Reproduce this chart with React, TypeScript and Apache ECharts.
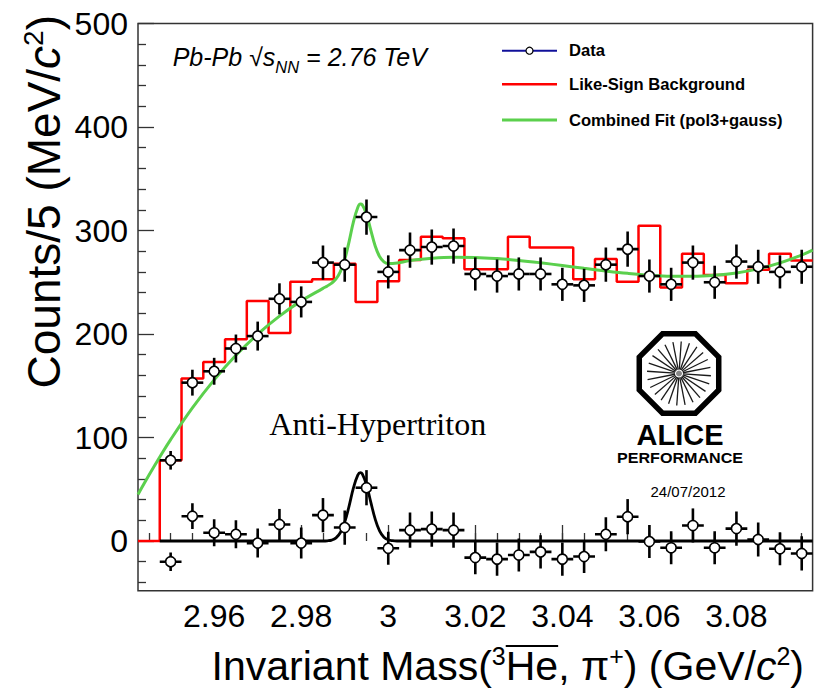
import React, { useEffect, useRef } from 'react';
import * as echarts from 'echarts';

// ---------- data ----------
const histCenters = [2.945, 2.95, 2.955, 2.96, 2.965, 2.97, 2.975, 2.98, 2.985, 2.99, 2.995, 3.0, 3.005, 3.01, 3.015, 3.02, 3.025, 3.03, 3.035, 3.04, 3.045, 3.05, 3.055, 3.06, 3.065, 3.07, 3.075, 3.08, 3.085, 3.09, 3.095];
const likeSignBkg = [0, 78, 157, 173, 195, 232, 201, 250.5, 253, 268, 231, 251, 271.5, 294, 292.5, 262.5, 262.5, 294, 283.5, 283.5, 253, 272.5, 250.5, 304.5, 245, 277.5, 257, 249, 262, 277.5, 271];
const dataCenters = histCenters.slice(1);
const dataCounts = [78, 153, 164, 186, 198, 234, 231, 269, 267, 313, 260, 281, 284, 285, 258, 256, 258, 258, 248, 247, 267, 282, 256, 248, 269, 250, 270, 265, 260, 265];
const dataSubtracted = [-20, 24, 8, 6.5, -2, 16, -2, 25, 13, 51.5, -7, 10.5, 11.5, 10.5, -16, -17.5, -13.5, -10.5, -17.5, -15, 6.5, 23.5, -0.5, -6.5, 15, -6.5, 12, 1.5, -7.5, -12];
const statErrors = [9, 12.5, 13, 13.5, 14, 15, 15, 16.5, 16.5, 17, 16, 17, 17, 17, 16, 16, 16, 16, 16, 16, 16.5, 17, 16, 16, 16.5, 16, 16.5, 16.5, 16, 16.5];

const fitX = [2.9425, 2.945, 2.9475, 2.95, 2.955, 2.96, 2.965, 2.97, 2.975, 2.98, 2.985, 2.986, 2.987, 2.988, 2.989, 2.99, 2.991, 2.992, 2.993, 2.9936, 2.994, 2.995, 2.996, 2.997, 2.998, 2.999, 3.0, 3.001, 3.005, 3.01, 3.015, 3.02, 3.025, 3.03, 3.035, 3.04, 3.045, 3.05, 3.055, 3.06, 3.065, 3.07, 3.075, 3.08, 3.085, 3.09, 3.095, 3.0975];
const combinedFit = [45, 63.5, 81.2, 98, 128.6, 155.7, 179.4, 199.8, 217.3, 232, 244.1, 246.4, 249.1, 253.2, 260.3, 272.1, 289.3, 308.4, 322.3, 325.5, 325, 315.8, 300.1, 285, 274.8, 269.7, 268.2, 268.2, 270.9, 273.2, 274.2, 274, 272.9, 271.1, 268.8, 266.2, 263.5, 260.9, 258.6, 256.8, 255.8, 255.7, 256.7, 259, 262.9, 268.7, 276.3, 281];

const gaussX = [2.9475, 2.985, 2.986, 2.987, 2.988, 2.989, 2.99, 2.991, 2.992, 2.993, 2.9936, 2.994, 2.995, 2.996, 2.997, 2.998, 2.999, 3.0, 3.001, 3.002, 3.0975];
const gaussFit = [0, 0, 0.2, 0.9, 3.0, 8.2, 18.3, 33.8, 51.3, 63.7, 66, 65, 54.4, 37.4, 21.1, 9.8, 3.7, 1.2, 0.3, 0, 0];

const xTickValues = [2.96, 2.98, 3.0, 3.02, 3.04, 3.06, 3.08];
const xTickLabels = ['2.96', '2.98', '3', '3.02', '3.04', '3.06', '3.08'];
const yTickValues = [0, 100, 200, 300, 400, 500];
const yTickLabels = ['0', '100', '200', '300', '400', '500'];
const yMinorTicks = [-40, -20, 20, 40, 60, 80, 120, 140, 160, 180, 220, 240, 260, 280, 320, 340, 360, 380, 420, 440, 460, 480];

const legendLabels = ['Data', 'Like-Sign Background', 'Combined Fit (pol3+gauss)'];

const X_MIN = 2.9425;
const X_MAX = 3.0975;
const Y_MIN = -48;
const Y_MAX = 500;
const BIN_HALF = 0.0025;

const SANS = "'Liberation Sans', Arial, Helvetica, sans-serif";
const SERIF = "'Liberation Serif', 'Times New Roman', serif";
const RED = '#ff0000';
const GREEN = '#5bd04d';
const BLUE = '#10109a';
const FRAME = '#333333';

function measure(text: string, font: string): number {
  const c = document.createElement('canvas');
  const ctx = c.getContext('2d');
  if (!ctx) return text.length * 10;
  ctx.font = font;
  return ctx.measureText(text).width;
}

function labelFor(v: number, values: number[], labels: string[]): string {
  for (let i = 0; i < values.length; i++) {
    if (Math.abs(values[i] - v) < 1e-6) return labels[i];
  }
  return '';
}

export default function App() {
  const ref = useRef<HTMLDivElement>(null);

  useEffect(() => {
    document.body.style.margin = '0';
    if (!ref.current) return;
    const chart = echarts.init(ref.current, null, { renderer: 'svg' });

    const bkgLine: number[][] = histCenters.map((c, i) => [c - BIN_HALF, likeSignBkg[i]]);
    bkgLine.push([X_MAX, likeSignBkg[likeSignBkg.length - 1]]);
    const fitLine = fitX.map((x, i) => [x, combinedFit[i]]);
    const gaussLine = gaussX.map((x, i) => [x, gaussFit[i]]);
    const points = [
      ...dataCenters.map((x, i) => [x, dataCounts[i], statErrors[i]]),
      ...dataCenters.map((x, i) => [x, dataSubtracted[i], statErrors[i]]),
    ];

    const renderErrorBar = (params: any, api: any) => {
      const x = api.value(0);
      const y = api.value(1);
      const e = api.value(2);
      const l = api.coord([x - BIN_HALF, y]);
      const r = api.coord([x + BIN_HALF, y]);
      const t = api.coord([x, y + e]);
      const b = api.coord([x, y - e]);
      const st = { stroke: '#000', lineWidth: 2.6 };
      return {
        type: 'group',
        children: [
          { type: 'line', shape: { x1: l[0], y1: l[1], x2: r[0], y2: r[1] }, style: st },
          { type: 'line', shape: { x1: t[0], y1: t[1], x2: b[0], y2: b[1] }, style: st },
        ],
      };
    };

    const tickStyle = { color: FRAME, width: 1.3 };

    // ----- x title (rich text) with overline over "He" -----
    const XT = 41;
    const XS = 25;
    const fN = `${XT}px ${SANS}`;
    const fS = `${XS}px ${SANS}`;
    const fI = `italic ${XT}px ${SANS}`;
    const tokens: [string, string][] = [
      ['Invariant Mass(', fN], ['3', fS], ['He', fN], [', \u03c0', fN], ['+', fS], [') (GeV/', fN], ['c', fI], ['2', fS], [')', fN],
    ];
    const widths = tokens.map(([t, f]) => measure(t, f));
    const totalW = widths.reduce((a, b) => a + b, 0);
    const xTitleRight = 804;
    const xTitleTop = 643;
    const xTitleLeft = xTitleRight - totalW;
    const heStart = xTitleLeft + widths[0] + widths[1];
    const heEnd = heStart + widths[2];

    const octR = 43;
    const octCx = 679;
    const octCy = 373.5;
    const octPts: number[][] = [];
    for (let i = 0; i < 8; i++) {
      const a = (Math.PI / 8) + (i * Math.PI) / 4;
      octPts.push([octCx + octR * Math.cos(a), octCy + octR * Math.sin(a)]);
    }
    const spokes: any[] = [];
    for (let i = 0; i < 24; i++) {
      const a = (i * Math.PI * 2) / 24 + 0.07;
      spokes.push({
        type: 'line',
        shape: { x1: octCx + 4 * Math.cos(a), y1: octCy + 4 * Math.sin(a), x2: octCx + 32 * Math.cos(a), y2: octCy + 32 * Math.sin(a) },
        style: { stroke: '#1a1a1a', lineWidth: 1.3 },
      });
    }

    const legendY = [50.7, 84.3, 120];
    const legendColors = [BLUE, RED, GREEN];
    const legendWidths = [2, 2.5, 3];
    const legendEls: any[] = [];
    legendLabels.forEach((lab, i) => {
      legendEls.push({ type: 'line', shape: { x1: 502, y1: legendY[i], x2: 557, y2: legendY[i] }, style: { stroke: legendColors[i], lineWidth: legendWidths[i] } });
      if (i === 0) {
        legendEls.push({ type: 'circle', shape: { cx: 529.5, cy: legendY[i], r: 3.5 }, style: { fill: '#fff', stroke: '#000', lineWidth: 1.2 } });
      }
      legendEls.push({
        type: 'text', x: 569, y: legendY[i],
        style: { text: lab, font: `bold 16.6px ${SANS}`, fill: '#000', textAlign: 'left', align: 'left', textVerticalAlign: 'middle', verticalAlign: 'middle' },
      });
    });

    chart.setOption({
      animation: false,
      backgroundColor: '#ffffff',
      grid: { left: 138, right: 2.4, top: 23.5, bottom: 98.3, show: true, borderColor: FRAME, borderWidth: 1.5, backgroundColor: 'transparent' },
      xAxis: [
        {
          type: 'value', min: X_MIN, max: X_MAX, position: 'bottom',
          axisLine: { show: false }, splitLine: { show: false },
          axisTick: { show: true, inside: true, length: 16, customValues: xTickValues, lineStyle: tickStyle },
          axisLabel: {
            show: true, customValues: xTickValues, formatter: (v: number) => labelFor(v, xTickValues, xTickLabels),
            fontSize: 32, color: '#000', fontFamily: SANS, margin: 9,
          },
        },
        {
          type: 'value', min: X_MIN, max: X_MAX, position: 'bottom', gridIndex: 0,
          axisLine: { show: false }, splitLine: { show: false },
          axisTick: { show: true, inside: true, length: 8, customValues: histCenters, lineStyle: tickStyle },
          axisLabel: { show: false },
        },
      ],
      yAxis: [
        {
          type: 'value', min: Y_MIN, max: Y_MAX, position: 'left',
          axisLine: { show: false }, splitLine: { show: false },
          axisTick: { show: true, inside: true, length: 16, customValues: yTickValues, lineStyle: tickStyle },
          axisLabel: {
            show: true, customValues: yTickValues, formatter: (v: number) => labelFor(v, yTickValues, yTickLabels),
            fontSize: 32, color: '#000', fontFamily: SANS, margin: 10,
          },
        },
        {
          type: 'value', min: Y_MIN, max: Y_MAX, position: 'left', gridIndex: 0,
          axisLine: { show: false }, splitLine: { show: false },
          axisTick: { show: true, inside: true, length: 8, customValues: yMinorTicks, lineStyle: tickStyle },
          axisLabel: { show: false },
        },
      ],
      series: [
        {
          type: 'line', name: 'Like-Sign Background', xAxisIndex: 0, yAxisIndex: 0, step: 'end', symbol: 'none',
          data: bkgLine, lineStyle: { color: RED, width: 2.5 }, z: 2, silent: true,
        },
        {
          type: 'line', name: 'Gaussian', xAxisIndex: 0, yAxisIndex: 0, smooth: 0.4, symbol: 'none',
          data: gaussLine, lineStyle: { color: '#000', width: 2.8 }, z: 3, silent: true,
        },
        {
          type: 'line', name: 'Combined Fit (pol3+gauss)', xAxisIndex: 0, yAxisIndex: 0, smooth: 0.4, symbol: 'none',
          data: fitLine, lineStyle: { color: GREEN, width: 3 }, z: 4, silent: true,
        },
        {
          type: 'custom', name: 'Data errors', xAxisIndex: 0, yAxisIndex: 0, renderItem: renderErrorBar,
          data: points, z: 5, clip: true, silent: true,
        },
        {
          type: 'scatter', name: 'Data', xAxisIndex: 0, yAxisIndex: 0, symbol: 'circle', symbolSize: 10,
          data: points.map((p) => [p[0], p[1]]),
          itemStyle: { color: '#ffffff', borderColor: '#000', borderWidth: 1.6, opacity: 1 }, z: 6, silent: true,
        },
      ],
      graphic: [
        // energy label
        {
          type: 'text', x: 172.7, y: 39,
          style: {
            text: '{n|Pb-Pb \u221as}{sub|NN}{n| = 2.76 TeV}',
            textAlign: 'left', align: 'left', textVerticalAlign: 'top', verticalAlign: 'top',
            fill: '#000',
            rich: {
              n: { fontSize: 25, fontStyle: 'italic', fontFamily: SANS, lineHeight: 36, verticalAlign: 'middle', fill: '#000' },
              sub: { fontSize: 16.5, fontStyle: 'italic', fontFamily: SANS, lineHeight: 16, verticalAlign: 'bottom', fill: '#000' },
            },
          },
        },
        // legend
        ...legendEls,
        // Anti-Hypertriton label
        {
          type: 'text', x: 269.3, y: 424,
          style: { text: 'Anti-Hypertriton', font: `32px ${SERIF}`, fill: '#000', textAlign: 'left', align: 'left', textVerticalAlign: 'middle', verticalAlign: 'middle' },
        },
        // ALICE logo
        { type: 'polygon', shape: { points: octPts }, style: { fill: 'none', stroke: '#000', lineWidth: 5.5 } },
        ...spokes,
        { type: 'circle', shape: { cx: octCx, cy: octCy, r: 3 }, style: { fill: '#888' } },
        {
          type: 'text', x: 680, y: 435,
          style: { text: 'ALICE', font: `bold 29px ${SANS}`, fill: '#000', textAlign: 'center', align: 'center', textVerticalAlign: 'middle', verticalAlign: 'middle' },
        },
        {
          type: 'text', x: 680, y: 458, scaleX: 1.15,
          style: { text: 'PERFORMANCE', font: `bold 14px ${SANS}`, fill: '#000', textAlign: 'center', align: 'center', textVerticalAlign: 'middle', verticalAlign: 'middle' },
        },
        {
          type: 'text', x: 688, y: 491,
          style: { text: '24/07/2012', font: `15px ${SANS}`, fill: '#000', textAlign: 'center', align: 'center', textVerticalAlign: 'middle', verticalAlign: 'middle' },
        },
        // y axis title
        {
          type: 'text', x: 44, y: 15, rotation: Math.PI / 2,
          style: {
            text: '{n|Counts/5 (MeV/}{i|c}{sup|2}{n|)}',
            textAlign: 'right', align: 'right', textVerticalAlign: 'middle', verticalAlign: 'middle', fill: '#000',
            rich: {
              n: { fontSize: 46, fontFamily: SANS, lineHeight: 50, verticalAlign: 'middle', fill: '#000' },
              i: { fontSize: 46, fontStyle: 'italic', fontFamily: SANS, lineHeight: 50, verticalAlign: 'middle', fill: '#000' },
              sup: { fontSize: 28, fontFamily: SANS, lineHeight: 28, verticalAlign: 'top', fill: '#000' },
            },
          },
        },
        // x axis title
        {
          type: 'text', x: xTitleLeft, y: xTitleTop,
          style: {
            text: '{n|Invariant Mass(}{sup|3}{n|He}{n|, \u03c0}{sup|+}{n|) (GeV/}{i|c}{sup|2}{n|)}',
            textAlign: 'left', align: 'left', textVerticalAlign: 'top', verticalAlign: 'top', fill: '#000',
            rich: {
              n: { fontSize: XT, fontFamily: SANS, lineHeight: 45, verticalAlign: 'middle', fill: '#000' },
              i: { fontSize: XT, fontStyle: 'italic', fontFamily: SANS, lineHeight: 45, verticalAlign: 'middle', fill: '#000' },
              sup: { fontSize: XS, fontFamily: SANS, lineHeight: 25, verticalAlign: 'top', fill: '#000' },
            },
          },
        },
        { type: 'line', shape: { x1: heStart, y1: xTitleTop + 3, x2: heEnd, y2: xTitleTop + 3 }, style: { stroke: '#000', lineWidth: 2 } },
      ],
    });

    return () => {
      chart.dispose();
    };
  }, []);

  return <div ref={ref} style={{ width: 815, height: 689 }} />;
}
